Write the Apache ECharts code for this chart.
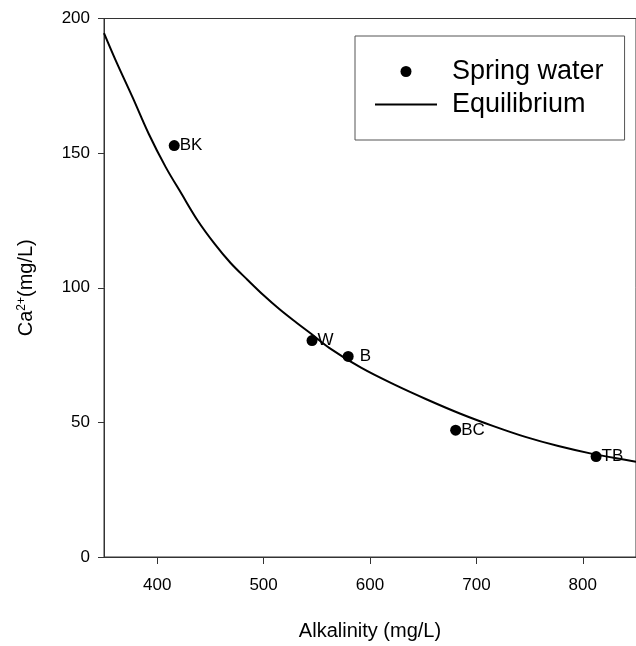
<!DOCTYPE html>
<html>
<head>
<meta charset="utf-8">
<style>
  html, body { margin: 0; padding: 0; background: #fff; }
  #chart { width: 636px; height: 646px; }
</style>
<script src="https://cdn.jsdelivr.net/npm/echarts@6/dist/echarts.min.js"></script>
</head>
<body>
<div id="chart"></div>
<script>
// spring water samples
const siteNames = ['BK', 'W', 'B', 'BC', 'TB']
const siteAlk = [416, 545.5, 579.5, 680.5, 812.5]
const siteCa = [152.8, 80.4, 74.5, 47.1, 37.3]

// equilibrium curve
const eqAlk = [350, 361.5, 377, 392, 408, 423, 438, 454, 469, 485, 500, 515, 531, 545, 562, 592, 623, 654, 685, 716, 746, 777, 808, 841, 850]
const eqCa = [194.6, 184, 170.6, 157.2, 144.8, 134.8, 125, 116.3, 109.2, 102.9, 97.2, 92, 87, 82.8, 77.6, 70.2, 64, 58.4, 53.2, 48.6, 44.6, 41.2, 38.4, 36, 35.4]

const xTicks = [400, 500, 600, 700, 800]
const yTicks = [0, 50, 100, 150, 200]

const font = 'Liberation Sans, Arial, sans-serif'
const axisColor = '#333'

const chart = echarts.init(document.getElementById('chart'))

const siteData = siteNames.map((name, i) => {
  const item = { name, value: [siteAlk[i], siteCa[i]] }
  // "B" sits a little further from its dot
  if (name === 'B') item.label = { distance: 6 }
  return item
})

const option = {
  animation: false,
  backgroundColor: '#fff',
  grid: {
    left: 104,
    right: -10,
    top: 18.5,
    bottom: 87,
    show: true,
    borderColor: axisColor,
    borderWidth: 1
  },
  legend: {
    orient: 'vertical',
    left: 355,
    top: 36,
    padding: [22, 21, 22, 20],
    itemGap: 6,
    itemWidth: 62,
    itemHeight: 11,
    borderColor: '#555',
    borderWidth: 1,
    textStyle: { fontFamily: font, fontSize: 27, color: '#000', padding: [0, 0, 0, 10] },
    data: [
      { name: 'Spring water', icon: 'circle' },
      { name: 'Equilibrium', icon: 'path://M0,0H100V3.2H0Z' }
    ]
  },
  xAxis: {
    type: 'value',
    min: 350,
    max: 850,
    interval: 50,
    name: 'Alkalinity (mg/L)',
    nameLocation: 'middle',
    nameGap: 64,
    nameTextStyle: { fontFamily: font, fontSize: 20, color: '#000' },
    axisLine: { lineStyle: { color: axisColor, width: 1 } },
    axisTick: {
      show: true,
      length: 7,
      lineStyle: { color: axisColor },
      customValues: xTicks
    },
    axisLabel: {
      fontFamily: font,
      fontSize: 17,
      color: '#000',
      margin: 20,
      customValues: xTicks
    },
    splitLine: { show: false }
  },
  yAxis: {
    type: 'value',
    min: 0,
    max: 200,
    interval: 50,
    name: '{n|Ca}{s|2+}{n|(mg/L)}',
    nameLocation: 'middle',
    nameGap: 67,
    nameRotate: 90,
    nameTextStyle: {
      fontFamily: font,
      color: '#000',
      rich: {
        n: { fontFamily: font, fontSize: 20, color: '#000' },
        s: { fontFamily: font, fontSize: 12, color: '#000', verticalAlign: 'bottom', padding: [0, 0, 9, 0] }
      }
    },
    axisLine: { show: true, lineStyle: { color: axisColor, width: 1 } },
    axisTick: { show: true, length: 6, lineStyle: { color: axisColor } },
    axisLabel: {
      fontFamily: font,
      fontSize: 17,
      color: '#000',
      margin: 14,
      customValues: yTicks
    },
    splitLine: { show: false }
  },
  series: [
    {
      name: 'Equilibrium',
      type: 'line',
      data: eqAlk.map((x, i) => [x, eqCa[i]]),
      smooth: 0.35,
      symbol: 'none',
      clip: true,
      lineStyle: { color: '#000', width: 2 },
      itemStyle: { color: '#000' },
      z: 2
    },
    {
      name: 'Spring water',
      type: 'scatter',
      data: siteData,
      symbol: 'circle',
      symbolSize: 11,
      itemStyle: { color: '#000', opacity: 1 },
      label: {
        show: true,
        position: 'right',
        distance: 0,
        formatter: p => p.name,
        fontFamily: font,
        fontSize: 17,
        color: '#000'
      },
      z: 3
    }
  ]
}

chart.setOption(option)
</script>
</body>
</html>
